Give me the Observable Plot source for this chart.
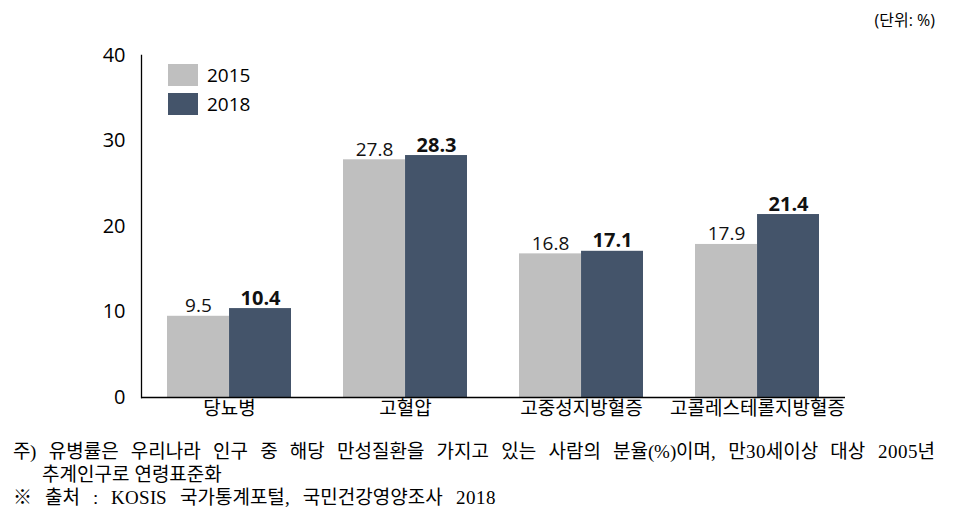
<!DOCTYPE html>
<html>
<head>
<meta charset="utf-8">
<script src="https://cdn.jsdelivr.net/npm/d3@7"></script>
<script src="https://cdn.jsdelivr.net/npm/@observablehq/plot@0.6"></script>
<style>
  @font-face { font-family: "NoteLatin"; src: local("Liberation Serif"); unicode-range: U+0000-00FF; }
  html, body { margin: 0; padding: 0; background: #fff; }
  body { width: 977px; height: 526px; position: relative; overflow: hidden;
         font-family: "Open Sans", "Noto Sans CJK KR", sans-serif; color: #000; }
  #unit { position: absolute; top: 10px; right: 42px; font-size: 16px; line-height: 20px; }
  #head { height: 30px; }
  #legend { position: absolute; left: 168px; top: 64px; font-size: 19px; }
  .item { display: flex; align-items: center; height: 22px; margin-bottom: 7px; }
  .sw { width: 30px; height: 22px; margin-right: 9px; }
  #note { position: absolute; left: 13px; top: 440px; width: 922px;
          font-family: "NoteLatin", "Noto Sans CJK KR", serif; font-size: 19px; line-height: 23px; }
  .j { text-align: justify; text-align-last: justify; white-space: nowrap; }
  .ind { padding-left: 29px; }
  .src { word-spacing: 8px; }
</style>
</head>
<body>
<div id="head"></div>
<div id="unit"></div>
<div id="chart"></div>
<div id="legend"></div>
<div id="note"></div>
<script>
const categories = ["당뇨병", "고혈압", "고중성지방혈증", "고콜레스테롤지방혈증"];
const years = ["2015", "2018"];
const values2015 = [9.5, 27.8, 16.8, 17.9];
const values2018 = [10.4, 28.3, 17.1, 21.4];
const yTicks = [0, 10, 20, 30, 40];
const colors = ["#bfbfbf", "#44546a"];
const unitText = "(단위: %)";
const noteLines = [
  "주) 유병률은 우리나라 인구 중 해당 만성질환을 가지고 있는 사람의 분율(%)이며, 만30세이상 대상 2005년",
  "추계인구로 연령표준화",
  "※ 출처 : KOSIS 국가통계포털, 국민건강영양조사 2018"
];

const rows2015 = categories.map((c, i) => ({category: c, year: years[0], value: values2015[i]}));
const rows2018 = categories.map((c, i) => ({category: c, year: years[1], value: values2018[i]}));

const W = 977, mL = 141, mR = 132;
const pInner = 0.295, pOuter = 0.1475;
const step = (W - mL - mR) / (categories.length - pInner + 2 * pOuter);
const half = step * (1 - pInner) / 2;

const chart = Plot.plot({
  width: W,
  height: 400,
  marginLeft: mL,
  marginRight: mR,
  marginTop: 25,
  marginBottom: 33,
  style: {fontFamily: "'Open Sans', 'Noto Sans CJK KR', sans-serif", color: "#000", background: "#fff", overflow: "visible"},
  x: {domain: categories, paddingInner: pInner, paddingOuter: pOuter, label: null},
  y: {domain: [0, 40], label: null},
  marks: [
    Plot.barY(rows2015, {x: "category", y: "value", fill: colors[0], insetRight: half}),
    Plot.barY(rows2018, {x: "category", y: "value", fill: colors[1], insetLeft: half}),
    Plot.text(rows2015, {x: "category", y: "value", text: d => d.value.toFixed(1), dx: -half / 2, dy: -4,
      lineAnchor: "bottom", fontSize: 19, fill: "#111"}),
    Plot.text(rows2018, {x: "category", y: "value", text: d => d.value.toFixed(1), dx: half / 2, dy: -4,
      lineAnchor: "bottom", fontSize: 20, fontWeight: "bold", fill: "#111"}),
    Plot.axisY({ticks: yTicks, tickSize: 0, tickPadding: 16, fontSize: 20, label: null}),
    Plot.axisX({tickSize: 0, tickPadding: 4, fontSize: 19, label: null}),
    Plot.ruleY([0], {stroke: "#000", strokeWidth: 1.3}),
    Plot.frame({anchor: "left", stroke: "#000", strokeWidth: 1.3})
  ]
});
document.getElementById("chart").appendChild(chart);

document.getElementById("unit").textContent = unitText;

const legend = document.getElementById("legend");
years.forEach((y, i) => {
  const it = document.createElement("div");
  it.className = "item";
  const sw = document.createElement("div");
  sw.className = "sw";
  sw.style.background = colors[i];
  const t = document.createElement("span");
  t.textContent = y;
  it.appendChild(sw); it.appendChild(t);
  legend.appendChild(it);
});

const note = document.getElementById("note");
const cls = ["j", "ind", "src"];
noteLines.forEach((l, i) => {
  const d = document.createElement("div");
  d.textContent = l;
  d.className = cls[i];
  note.appendChild(d);
});
</script>
</body>
</html>
